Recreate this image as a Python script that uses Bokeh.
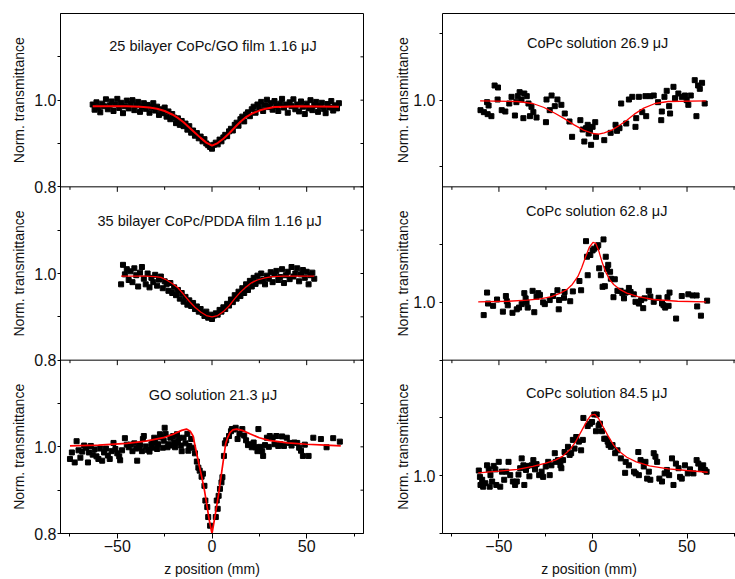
import math
from bokeh.plotting import figure
from bokeh.models import Range1d, LinearAxis, FixedTicker, Label, Span
from bokeh.layouts import row
from bokeh.embed import file_html
from bokeh.resources import INLINE

FONT = "Liberation Sans"
INK = "#111111"

# ---------------- data ----------------
x_major = [-50, 0, 50]
x_minor = [-75, -25, 25, 75]

# 25 bilayer CoPc/GO film
z1 = [-63, -62, -61, -60, -59, -58, -57, -56, -55, -54, -53, -52, -51, -50, -49, -48, -47, -46, -45, -44,
      -43, -42, -41, -40, -39, -38, -37, -36,
      -35, -34, -33, -32, -31, -30, -29, -28, -27, -26, -25, -24, -23, -22, -21, -20, -19, -18, -17, -16,
      -15, -14, -13, -12, -11, -10, -9, -8, -7, -6, -5, -4, -3, -2, -1,
      0, 1, 2, 3, 4, 5, 6, 7, 8, 9, 10, 11, 12, 13, 14, 15, 16, 17, 18, 19, 20, 21, 22, 23, 24, 25, 26, 27,
      28, 29, 30, 31, 32, 33, 34, 35, 36, 37, 38, 39, 40, 41, 42, 43, 44, 45, 46, 47, 48, 49, 50, 51, 52,
      53, 54, 55, 56, 57, 58, 59, 60, 61, 62, 63, 64, 65, 66, 67]
t1 = [0.990, 0.978, 0.995, 0.983, 0.972, 0.992, 0.986, 1.002, 0.979, 0.988, 0.997, 0.975, 0.990, 1.003,
      0.982, 0.994, 0.970, 0.986, 0.999, 0.981, 0.991, 1.000, 0.977, 0.988, 0.996, 0.973, 0.985, 0.993,
      0.980, 0.989, 0.971, 0.984, 0.993, 0.976, 0.985, 0.966, 0.979, 0.970, 0.983, 0.962, 0.974, 0.956,
      0.968, 0.960, 0.947, 0.958, 0.943, 0.952, 0.940, 0.946, 0.932, 0.940, 0.925, 0.930, 0.918, 0.924,
      0.912, 0.916, 0.905, 0.910, 0.900, 0.896, 0.892,
      0.888, 0.897, 0.902, 0.898, 0.909, 0.905, 0.914, 0.920, 0.917, 0.928, 0.934, 0.930, 0.943, 0.948,
      0.941, 0.956, 0.962, 0.951, 0.967, 0.972, 0.963, 0.979, 0.985, 0.971, 0.990, 0.982, 0.996, 0.975,
      0.988, 1.001, 0.984, 0.993, 0.978, 0.998, 0.987, 0.975, 0.992, 1.003, 0.983, 0.990, 0.971, 0.995,
      0.986, 1.002, 0.979, 0.990, 0.974, 0.997, 0.985, 0.968, 0.992, 0.981, 1.000, 0.977, 0.989, 0.996,
      0.973, 0.986, 0.994, 0.980, 0.970, 0.991, 0.983, 0.998, 0.976, 0.988, 0.981, 0.993]
fz1 = [-63, -45, -38, -33, -29, -25, -21, -18, -15, -12, -9, -6, -3, 0, 3, 6, 9, 12, 15, 18, 21, 25, 29,
       33, 38, 45, 67]
ft1 = [0.986, 0.986, 0.985, 0.983, 0.980, 0.975, 0.967, 0.959, 0.949, 0.937, 0.925, 0.913, 0.902, 0.895,
       0.901, 0.911, 0.923, 0.937, 0.950, 0.961, 0.969, 0.976, 0.981, 0.984, 0.985, 0.986, 0.985]

# 35 bilayer CoPc/PDDA film
z2 = [-48, -47, -46, -45, -44, -43, -42, -41, -40, -39, -38, -37, -36, -35, -34, -33, -32, -31, -30, -29,
      -28, -27, -26, -25, -24, -23, -22, -21, -20, -19, -18, -17, -16, -15, -14, -13, -12, -11, -10, -9,
      -8, -7, -6, -5, -4, -3, -2, -1,
      0, 1, 2, 3, 4, 5, 6, 7, 8, 9, 10, 11, 12, 13, 14, 15, 16, 17, 18, 19, 20, 21, 22, 23, 24, 25, 26,
      27, 28, 29, 30, 31, 32, 33, 34, 35, 36, 37, 38, 39, 40, 41, 42, 43, 44, 45, 46, 47, 48, 49, 50, 51,
      52, 53, 54]
t2 = [0.975, 1.020, 0.998, 1.010, 0.985, 1.005, 0.980, 1.012, 0.996, 0.970, 1.002, 1.015, 0.988, 0.975,
      1.000, 0.968, 0.990, 0.980, 0.997, 0.972, 0.986, 0.993, 0.966, 0.982, 0.975, 0.960, 0.978, 0.955,
      0.968, 0.950, 0.962, 0.942, 0.955, 0.935, 0.946, 0.928, 0.938, 0.925, 0.932, 0.918, 0.924, 0.912,
      0.918, 0.909, 0.902, 0.912, 0.898, 0.905,
      0.895, 0.903, 0.908, 0.905, 0.916, 0.912, 0.922, 0.918, 0.930, 0.926, 0.940, 0.934, 0.950, 0.942,
      0.958, 0.948, 0.966, 0.955, 0.975, 0.962, 0.983, 0.970, 0.990, 0.976, 0.995, 0.982, 1.000, 0.985,
      0.975, 0.995, 0.988, 1.003, 0.980, 0.998, 1.006, 0.985, 0.992, 1.010, 0.978, 0.996, 1.004, 0.987,
      1.015, 0.993, 1.000, 1.012, 0.982, 0.998, 1.008, 0.990, 1.004, 0.975, 0.996, 1.002, 0.988]
fz2 = [-48, -35, -30, -27, -24, -21, -18, -15, -12, -9, -6, -3, 0, 3, 6, 9, 12, 15, 18, 21, 24, 28, 32,
       38, 54]
ft2 = [0.994, 0.994, 0.993, 0.991, 0.985, 0.977, 0.967, 0.952, 0.936, 0.922, 0.911, 0.903, 0.900, 0.903,
       0.912, 0.925, 0.942, 0.957, 0.969, 0.979, 0.985, 0.990, 0.993, 0.994, 0.994]

# GO solution
z3 = [-75, -74, -72.5, -71.5, -70.5, -69.5, -68.5, -67.5, -66.5, -65.5, -65, -64, -63, -62, -61, -60,
      -59, -58, -57, -56, -55, -54, -53, -52, -51, -50, -49, -48.5, -47.5, -46, -45, -44, -43, -42, -41,
      -40, -39.5, -38.5, -38, -37, -36.5, -36, -35, -34, -33, -32, -31.5, -31, -30.5, -30, -29, -28.5,
      -27.5, -27, -26, -25.5, -25, -24.5, -23.5, -23, -22, -21, -20.5, -20, -19.5, -18.5, -18, -17.5,
      -16.5, -16, -15, -14, -13, -12.5, -12, -11,
      -10, -9, -8, -7.2, -6.5, -5.5, -4.8, -4, -3.5, -2.5, -2, -1, 2, 2.5, 3, 3.5, 4.2, 5, 5.5, 6.3, 6.8,
      7.5,
      9, 10, 10.5, 11.5, 12.5, 13.5, 14.5, 16, 17, 18, 19, 20, 21, 22, 23, 24, 24.5, 25.5, 26.5, 27, 28,
      29, 30, 30.5, 32, 33, 34, 35, 36, 37, 38, 39.5, 41, 42, 43.5, 45, 46, 47, 48, 49, 51, 53.5, 57.5,
      60.5, 64, 67.5]
t3 = [0.972, 0.987, 0.964, 1.013, 0.992, 0.975, 0.989, 1.003, 0.998, 0.964, 0.987, 1.002, 0.982, 0.994,
      0.978, 0.972, 0.996, 0.968, 0.987, 0.996, 0.980, 0.972, 0.990, 1.009, 0.995, 0.985, 0.978, 0.969,
      0.992, 1.020, 1.005, 0.999, 1.005, 0.990, 1.008, 0.996, 0.968, 0.999, 1.004, 0.990, 1.018, 1.025,
      1.001, 0.993, 0.989, 1.006, 0.998, 1.010, 1.021, 1.017, 0.995, 1.006, 1.029, 1.022, 0.998, 1.014,
      1.044, 1.030, 0.999, 1.006, 1.021, 1.003, 1.025, 1.012, 0.999, 1.029, 1.010, 1.021, 1.003, 0.990,
      1.021, 1.008, 1.030, 0.991, 1.002, 1.018,
      0.998, 0.985, 0.966, 0.952, 0.945, 0.931, 0.938, 0.910, 0.876, 0.861, 0.838, 0.818, 0.838, 0.876,
      0.857, 0.887, 0.903, 0.918, 0.930, 0.979, 1.008, 1.015,
      1.025, 1.036, 1.041, 1.040, 1.044, 1.018, 1.030, 1.041, 1.026, 1.015, 1.004, 1.006, 0.999, 1.010,
      0.999, 0.990, 1.041, 1.000, 0.990, 0.979, 1.004, 1.021, 1.000, 1.025, 1.021, 1.006, 1.025, 1.002,
      1.006, 1.024, 1.002, 1.021, 1.009, 1.003, 1.010, 1.009, 0.998, 0.991, 0.979, 1.005, 0.979, 1.021,
      1.018, 0.999, 1.020, 1.012]
fz3 = [-75, -60, -45, -35, -25, -20, -16, -13.5, -11.5, -10, -8.6, -7, -5.4, -4, -2.8, -1.5, 0, 1.2, 2.5,
       3.8, 5, 6.2, 7.2, 8.3, 9.5, 11, 13, 16, 20, 25, 30, 40, 50, 60, 68]
ft3 = [1.002, 1.004, 1.008, 1.013, 1.022, 1.030, 1.038, 1.041, 1.036, 1.025, 0.995, 0.962, 0.930, 0.900,
       0.868, 0.832, 0.800, 0.830, 0.864, 0.900, 0.938, 0.975, 1.007, 1.022, 1.033, 1.039, 1.041, 1.038,
       1.030, 1.021, 1.015, 1.009, 1.006, 1.004, 1.002]

# CoPc solution 26.9 uJ
z4 = [-59.8, -58, -56.3, -56, -55.5, -54, -52.3, -50.7, -50.5, -48.5, -46.6, -44.5, -43.3, -41.5, -40.7,
      -40, -39, -38, -37, -36.5, -35.2, -34.3, -33.5, -32.7, -31.7, -30, -25, -24.7, -23, -22, -20.3,
      -18.9, -16.8, -15, -12.5, -11.1, -6.7, -5.5, -4.6, -3.7, -2.8, -2.3, -1.6, -1, -0.2, 1.2, 1.6, 6,
      9.4, 12, 12.8, 14.1, 15, 17.7, 19.1, 20.9, 22.6, 23, 24.4, 26.2, 27.9, 28.3, 30.5, 32.3, 34.6, 36.3,
      36.6, 38, 39.2, 40.5, 41, 42.8, 43.6, 45.4, 47.2, 48.9, 49.8, 50.7, 52, 54.1, 55, 55.9, 56.8, 58,
      59.4]
t4 = [0.985, 0.982, 0.997, 0.979, 0.992, 0.976, 1.022, 1.001, 1.019, 0.985, 0.983, 0.995, 1.005, 0.977,
      0.997, 1.006, 1.012, 1.001, 0.973, 1.010, 1.006, 0.995, 0.976, 0.990, 0.982, 0.974, 0.967, 1.001,
      0.985, 1.007, 0.991, 1.001, 0.993, 0.980, 0.968, 0.945, 0.970, 0.956, 0.938, 0.958, 0.963, 0.950,
      0.955, 0.933, 0.960, 0.967, 0.945, 0.940, 0.951, 0.963, 0.954, 0.958, 0.995, 0.965, 1.001, 1.005,
      0.960, 0.973, 1.005, 0.982, 1.006, 0.976, 1.006, 1.007, 0.997, 0.970, 0.983, 1.005, 1.014, 0.991,
      0.980, 1.020, 1.003, 1.010, 1.005, 1.007, 1.000, 0.993, 1.007, 1.030, 0.976, 1.022, 1.017, 1.026,
      0.995]
fz4 = [-60, -40, -32, -26, -20, -15, -10, -5, 0, 3, 6, 10, 14, 18, 22, 27, 33, 40, 60]
ft4 = [0.999, 0.998, 0.995, 0.989, 0.980, 0.972, 0.963, 0.955, 0.950, 0.949, 0.951, 0.955, 0.962, 0.970,
       0.979, 0.988, 0.995, 0.998, 0.999]

# CoPc solution 62.8 uJ
z5 = [-58.1, -56.3, -55.8, -53.1, -51, -47.9, -46.3, -45.8, -45.3, -42.8, -40.5, -39.3, -37.9, -36.5,
      -35.8, -35.3, -34.7, -32.1, -31.2, -30, -29.1, -28.2, -26.5, -25.6, -23, -21.2, -18.9, -18.2, -18,
      -15.4, -15.1, -12.1, -10.7, -7.2, -6.3, -3.7, -3.2, -2.8, -1.4, -0.2, 0.7, 2.1, 2.8, 3.3, 4.2, 5.1,
      5.6, 6.3, 6.8, 7.4, 8.1, 9.1, 9.5, 10.9, 11.6, 13, 14.7, 15.6, 16.5, 17.4, 19.1, 20, 21.7, 22.6,
      24.4, 25.6, 26.7, 27.4, 29.7, 30.5, 32.3, 34.9, 36.7, 37.5, 38.4, 39.6, 40.2, 40.7, 44.2, 47.2,
      50.7, 53, 55.1, 55.4, 57.4, 60.7]
t5 = [0.978, 1.017, 0.998, 0.994, 1.005, 0.984, 1.011, 1.002, 0.995, 0.982, 0.988, 0.991, 0.997, 1.016,
      1.007, 1.000, 0.991, 1.020, 0.983, 1.010, 1.016, 1.013, 1.000, 0.997, 1.004, 1.011, 1.021, 0.988,
      1.004, 1.008, 1.018, 1.002, 1.019, 1.037, 1.021, 1.106, 1.079, 1.047, 1.082, 1.090, 1.093, 1.096,
      1.099, 1.059, 1.047, 1.027, 1.109, 1.028, 1.079, 1.058, 1.065, 1.053, 1.041, 1.009, 1.040, 1.020,
      1.020, 1.016, 1.007, 1.017, 1.025, 1.018, 1.014, 1.001, 0.998, 1.004, 0.990, 1.007, 1.020, 1.010,
      1.001, 1.008, 0.998, 0.995, 0.991, 1.009, 0.994, 1.017, 0.972, 1.011, 1.014, 1.012, 1.012, 0.993,
      0.977, 1.003]
fz5 = [-61, -45, -35, -28, -22, -18, -14, -11, -8, -6, -4, -2, 0, 1.5, 3, 5, 7, 9, 11, 14, 18, 24, 32, 45,
       60]
ft5 = [1.001, 1.002, 1.004, 1.006, 1.010, 1.015, 1.022, 1.031, 1.045, 1.060, 1.078, 1.095, 1.104, 1.102,
       1.090, 1.068, 1.051, 1.039, 1.031, 1.023, 1.016, 1.010, 1.005, 1.002, 1.001]

# CoPc solution 84.5 uJ
z6 = [-60.7, -60.1, -59.8, -58.9, -58.4, -57.2, -56.3, -55.4, -54.9, -54.5, -53.6, -52.8, -51.9, -51.4,
      -50.1, -49.3, -48.4, -47.2, -46.1, -44.9, -44, -42.6, -41.4, -40.5, -39.6, -38.7, -37.9, -37,
      -36.5, -35.6, -34.9, -33.8, -32.6, -31.7, -30.8, -30, -28.6, -27.3, -26.5, -25.1, -23.8, -23,
      -22.1, -20.3, -19.8, -18.6, -17.3, -16.8, -15.9, -15.1, -13.3, -12.4, -11.6, -10.7, -9.8, -8.9,
      -7.5, -6.3, -5.4, -5.1, -2.8, -1.5, -0.5, 0.7, 1.6, 2, 3, 3.7, 4.8, 6, 6.9, 7.8, 8.3, 9.5, 10.4,
      11.8, 13, 14.8, 17.1, 17.4, 19.1, 21.8, 22.7, 24.1, 24.4, 25.3, 27, 27.9, 28.8, 29.7, 30.5, 32.3,
      33.2, 34.1, 35.3, 36.7, 38.1, 39.3, 40.5, 42, 42.8, 44.1, 45.5, 46.3, 47.2, 48.9, 50.4, 51.6, 53.4,
      55.1, 56, 57.4, 58.6, 59.5, 60.4]
t6 = [1.009, 0.998, 0.984, 0.993, 0.981, 0.987, 1.018, 1.011, 0.981, 1.001, 0.990, 1.017, 1.011, 0.984,
      1.024, 0.981, 1.007, 0.993, 1.007, 1.024, 1.001, 0.990, 0.984, 0.990, 1.002, 1.013, 1.030, 1.018,
      0.984, 1.010, 1.017, 0.999, 1.018, 1.027, 1.011, 1.020, 1.001, 1.007, 0.998, 1.016, 1.024, 1.001,
      1.018, 1.039, 1.024, 1.027, 1.018, 1.013, 1.027, 1.041, 1.050, 1.036, 1.039, 1.062, 1.047, 1.067,
      1.059, 1.044, 1.062, 1.100, 1.086, 1.090, 1.093, 1.106, 1.077, 1.106, 1.087, 1.090, 1.077, 1.064,
      1.064, 1.059, 1.053, 1.050, 1.053, 1.039, 1.044, 1.030, 1.005, 1.024, 1.018, 1.007, 1.004, 1.041,
      1.001, 1.027, 1.016, 1.024, 0.995, 1.007, 0.993, 1.039, 1.033, 1.024, 0.995, 0.990, 1.004, 1.010,
      1.001, 1.030, 0.984, 1.021, 1.013, 0.998, 0.995, 1.018, 1.004, 1.011, 1.004, 1.027, 1.021, 1.013,
      1.018, 1.010, 1.007]
fz6 = [-61, -50, -40, -32, -25, -20, -16, -12, -9, -6, -3, -1, 1, 3, 5, 8, 11, 14, 18, 23, 30, 40, 50, 61]
ft6 = [1.005, 1.008, 1.011, 1.016, 1.022, 1.027, 1.034, 1.046, 1.060, 1.078, 1.096, 1.105, 1.106, 1.099,
       1.087, 1.069, 1.053, 1.042, 1.032, 1.024, 1.017, 1.012, 1.009, 1.006]

titles = ["25 bilayer CoPc/GO film 1.16 \u03bcJ", "35 bilayer CoPc/PDDA film 1.16 \u03bcJ",
          "GO solution 21.3 \u03bcJ", "CoPc solution 26.9 \u03bcJ", "CoPc solution 62.8 \u03bcJ",
          "CoPc solution 84.5 \u03bcJ"]
y_title = "Norm. transmittance"
x_title = "z position (mm)"

left_panels = [
    dict(name="p1", lo=0.8, hi=1.2, major=[0.8, 1.0], minor=[0.9, 1.1], z=z1, t=t1, fz=fz1, ft=ft1,
         lw=2.0, title=titles[0], tx=0.5, ty=0.815),
    dict(name="p2", lo=0.8, hi=1.2, major=[0.8, 1.0], minor=[0.9, 1.1], z=z2, t=t2, fz=fz2, ft=ft2,
         lw=1.3, title=titles[1], tx=-1.0, ty=0.804),
    dict(name="p3", lo=0.8, hi=1.2, major=[0.8, 1.0], minor=[0.9, 1.1], z=z3, t=t3, fz=fz3, ft=ft3,
         lw=1.7, title=titles[2], tx=0.5, ty=0.798),
]
right_panels = [
    dict(name="p4", lo=0.87, hi=1.13, major=[1.0], minor=[0.9, 1.1], z=z4, t=t4, fz=fz4, ft=ft4,
         lw=1.3, title=titles[3], tx=2.5, ty=0.827),
    dict(name="p5", lo=0.9, hi=1.2, major=[1.0], minor=[0.9, 1.1], z=z5, t=t5, fz=fz5, ft=ft5,
         lw=1.3, title=titles[4], tx=2.0, ty=0.862),
    dict(name="p6", lo=0.9, hi=1.2, major=[1.0], minor=[0.9, 1.1], z=z6, t=t6, fz=fz6, ft=ft6,
         lw=1.3, title=titles[5], tx=2.0, ty=0.81),
]

H = 579
TOP, BOTTOM = 13, 46
PANEL_PX = (H - TOP - BOTTOM) / 3.0
PX_PER_MM = 303 / 160.0


def label_strip(width, xpos):
    """Narrow strip that carries the rotated y titles of one column of panels."""
    s = figure(width=width, height=H, x_range=Range1d(0, width), y_range=Range1d(0, 3),
               x_axis_type=None, y_axis_type=None, output_backend="svg", toolbar_location=None,
               min_border_left=0, min_border_right=0, min_border_top=TOP, min_border_bottom=BOTTOM)
    s.outline_line_color = None
    s.background_fill_color = "white"
    s.border_fill_color = "white"
    for b in (2, 1, 0):
        s.add_layout(Label(x=xpos, y=b + 0.5, text=y_title, angle=math.pi / 2, text_font=FONT,
                           text_font_size="14px", text_color=INK, text_align="center",
                           text_baseline="middle"))
    return s


def make_column(panels, x_end, width, border_left, border_right, label_standoff, outline):
    p = figure(width=width, height=H, x_range=Range1d(-80, x_end), y_range=Range1d(0, 3),
               x_axis_type=None, y_axis_type=None, output_backend="svg", toolbar_location=None,
               min_border_left=border_left, min_border_right=border_right,
               min_border_top=TOP, min_border_bottom=BOTTOM)
    p.outline_line_color = "black" if outline else None
    p.background_fill_color = "white"
    p.border_fill_color = "white"

    ranges = {}
    for k, pan in enumerate(panels):
        base = 2 - k
        s = pan["hi"] - pan["lo"]
        ranges[pan["name"]] = Range1d(pan["lo"] - base * s, pan["lo"] + (3 - base) * s)
    p.extra_y_ranges = ranges

    major_pos, minor_pos, overrides = [], [], {}
    for k, pan in enumerate(panels):
        base = 2 - k
        lo = pan["lo"]
        s = pan["hi"] - lo
        for v in pan["major"]:
            pos = base + (v - lo) / s
            major_pos.append(pos)
            overrides[pos] = "%.1f" % v
        for v in pan["minor"]:
            minor_pos.append(base + (v - lo) / s)
        p.scatter(pan["z"], pan["t"], marker="square", size=5, color="black", y_range_name=pan["name"])
        p.line(pan["fz"], pan["ft"], color="#ff0000", line_width=pan["lw"], y_range_name=pan["name"])
        p.add_layout(Label(x=pan["tx"], y=base + pan["ty"], text=pan["title"], text_font=FONT,
                           text_font_size="14.5px", text_color=INK, text_align="center",
                           text_baseline="middle"))

    # panel boundaries and their downward ticks
    for b in (1, 2):
        p.add_layout(Span(location=b, dimension="width", line_color="black", line_width=1))
        p.segment(x0=x_major, y0=[b] * len(x_major), x1=x_major,
                  y1=[b - 5 / PANEL_PX] * len(x_major), line_color="black", line_width=1)
        p.segment(x0=x_minor, y0=[b] * len(x_minor), x1=x_minor,
                  y1=[b - 3 / PANEL_PX] * len(x_minor), line_color="black", line_width=1)

    yt = FixedTicker(ticks=major_pos, minor_ticks=minor_pos)
    ly = LinearAxis(ticker=yt, major_label_overrides=overrides, major_tick_out=3, major_tick_in=0,
                    minor_tick_out=3, minor_tick_in=0, major_label_standoff=label_standoff,
                    major_label_text_font=FONT, major_label_text_font_size="16px",
                    major_label_text_color=INK, axis_line_color="black",
                    major_tick_line_color="black", minor_tick_line_color="black")
    p.add_layout(ly, "left")

    xt = FixedTicker(ticks=x_major, minor_ticks=x_minor)
    bx = LinearAxis(ticker=xt, axis_label=x_title, major_tick_out=5, major_tick_in=0,
                    minor_tick_out=3, minor_tick_in=0, major_label_standoff=1,
                    axis_label_standoff=6, major_label_text_font=FONT,
                    major_label_text_font_size="16px", major_label_text_color=INK,
                    axis_label_text_font=FONT, axis_label_text_font_size="14px",
                    axis_label_text_font_style="normal", axis_label_text_color=INK,
                    axis_line_color="black")
    p.add_layout(bx, "below")
    return p, major_pos + minor_pos


# left column: strip 0-28, figure 28-368 (frame 60-363)
left_strip = label_strip(28, 18.5)
left, tick_pos = make_column(left_panels, 80, 340, 32, 5, 1, True)
# small ticks on the right edge of the left column
left.segment(x0=[80] * len(tick_pos), y0=tick_pos, x1=[80 - 3 / PX_PER_MM] * len(tick_pos), y1=tick_pos,
             line_color="black", line_width=1)

# right column: strip 368-410, figure 410-735 (frame 440-735)
right_strip = label_strip(42, 34)
right, _ = make_column(right_panels, -80 + 295 / PX_PER_MM, 325, 30, 0, 4, False)
top_axis = LinearAxis(ticker=FixedTicker(ticks=[]), major_tick_out=0, minor_tick_out=0,
                      major_label_standoff=0, axis_line_color="black")
right.add_layout(top_axis, "above")

layout = row(left_strip, left, right_strip, right)
open("out.html", "w").write(file_html(layout, INLINE))
